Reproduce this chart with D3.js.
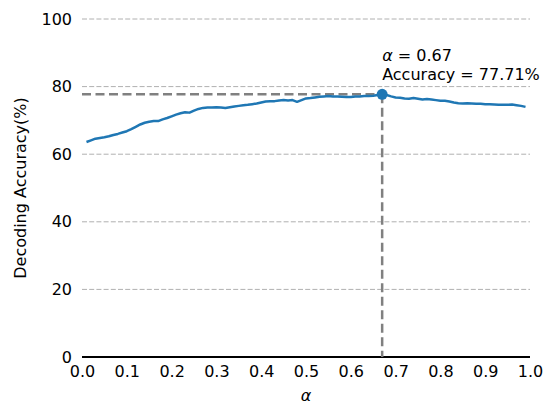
<!DOCTYPE html>
<html>
<head>
<meta charset="utf-8">
<script src="https://cdn.jsdelivr.net/npm/d3@7"></script>
<style>
  body { margin: 0; background: #fff; }
  text { font-family: "DejaVu Sans", sans-serif; fill: #000; }
</style>
</head>
<body>
<div id="chart"></div>
<script>
// data
var alphas = d3.range(1, 100).map(d => d / 100);
var accuracy = [
  63.6, 64.1, 64.6, 64.8, 65.0, 65.3, 65.7, 66.0, 66.4, 66.8,
  67.4, 68.1, 68.8, 69.3, 69.6, 69.8, 69.8, 70.3, 70.7, 71.2,
  71.7, 72.1, 72.4, 72.3, 72.9, 73.4, 73.7, 73.8, 73.8, 73.9,
  73.8, 73.7, 73.9, 74.1, 74.3, 74.5, 74.6, 74.8, 75.0, 75.3,
  75.6, 75.7, 75.7, 75.9, 76.0, 75.9, 76.0, 75.5, 76.0, 76.5,
  76.6, 76.8, 77.0, 77.1, 77.2, 77.1, 77.1, 77.0, 76.9, 76.9,
  77.1, 77.1, 77.2, 77.2, 77.3, 77.5, 77.71, 77.5, 77.1, 76.8,
  76.7, 76.5, 76.4, 76.6, 76.4, 76.2, 76.3, 76.2, 76.0, 75.8,
  75.8, 75.6, 75.3, 75.1, 75.0, 75.1, 75.0, 74.9, 74.9, 74.8,
  74.8, 74.7, 74.6, 74.6, 74.6, 74.7, 74.5, 74.3, 74.0
];
var bestAlpha = 0.67;
var bestAcc = 77.71;
var xTicks = [0, 0.1, 0.2, 0.3, 0.4, 0.5, 0.6, 0.7, 0.8, 0.9, 1.0];
var yTicks = [0, 20, 40, 60, 80, 100];

var data = alphas.map((a, i) => ({ a: a, v: accuracy[i] }));

var svgWidth = 558, svgHeight = 406;
var margin = { top: 19, right: 28, bottom: 49, left: 82 };
var width = svgWidth - margin.left - margin.right;
var height = svgHeight - margin.top - margin.bottom;

var svg = d3.select("#chart").append("svg")
  .attr("width", svgWidth)
  .attr("height", svgHeight);

var g = svg.append("g")
  .attr("transform", `translate(${margin.left},${margin.top})`);

var x = d3.scaleLinear().domain([0, 1]).range([0, width]);
var y = d3.scaleLinear().domain([0, 100]).range([height, 0]);

// grid lines
g.append("g")
  .selectAll("line")
  .data(yTicks.filter(d => d > 0))
  .enter().append("line")
  .attr("x1", 0).attr("x2", width)
  .attr("y1", d => y(d)).attr("y2", d => y(d))
  .attr("stroke", "#b0b0b0")
  .attr("stroke-width", 1)
  .attr("stroke-dasharray", "5,2.2");

// axes (labels only, no ticks)
var xAxis = g.append("g")
  .attr("transform", `translate(0,${height})`)
  .call(d3.axisBottom(x).tickValues(xTicks).tickSize(0).tickPadding(9).tickFormat(d3.format(".1f")));
xAxis.select(".domain").remove();
xAxis.selectAll("text").attr("font-size", 16).attr("font-family", "DejaVu Sans");

var yAxis = g.append("g")
  .call(d3.axisLeft(y).tickValues(yTicks).tickSize(0).tickPadding(10));
yAxis.select(".domain").remove();
yAxis.selectAll("text").attr("font-size", 16).attr("font-family", "DejaVu Sans");

// bottom spine
g.append("line")
  .attr("x1", 0).attr("x2", width)
  .attr("y1", y(0)).attr("y2", y(0))
  .attr("stroke", "#000")
  .attr("stroke-width", 2);

// best point guides
g.append("line")
  .attr("x1", 0).attr("x2", x(bestAlpha))
  .attr("y1", y(bestAcc)).attr("y2", y(bestAcc))
  .attr("stroke", "#808080")
  .attr("stroke-width", 2.5)
  .attr("stroke-dasharray", "9,4.5");

g.append("line")
  .attr("x1", x(bestAlpha)).attr("x2", x(bestAlpha))
  .attr("y1", y(bestAcc)).attr("y2", y(0))
  .attr("stroke", "#808080")
  .attr("stroke-width", 2.5)
  .attr("stroke-dasharray", "9,4.5");

// accuracy curve
var line = d3.line().x(d => x(d.a)).y(d => y(d.v));
g.append("path")
  .datum(data)
  .attr("fill", "none")
  .attr("stroke", "#1f77b4")
  .attr("stroke-width", 2.5)
  .attr("stroke-linejoin", "round")
  .attr("d", line);

g.append("circle")
  .attr("cx", x(bestAlpha))
  .attr("cy", y(bestAcc))
  .attr("r", 5.5)
  .attr("fill", "#1f77b4");

// annotation
var note = g.append("text")
  .attr("x", x(bestAlpha))
  .attr("y", y(bestAcc) - 33)
  .attr("font-size", 16);
note.append("tspan").attr("font-style", "italic").text("α");
note.append("tspan").text(" = " + bestAlpha.toFixed(2));
g.append("text")
  .attr("x", x(bestAlpha))
  .attr("y", y(bestAcc) - 14)
  .attr("font-size", 16)
  .text("Accuracy = " + bestAcc.toFixed(2) + "%");

// axis labels
g.append("text")
  .attr("x", width / 2)
  .attr("y", height + 44)
  .attr("text-anchor", "middle")
  .attr("font-size", 16)
  .attr("font-style", "italic")
  .text("α");

g.append("text")
  .attr("transform", `translate(${-margin.left + 26},${height / 2}) rotate(-90)`)
  .attr("text-anchor", "middle")
  .attr("font-size", 16)
  .text("Decoding Accuracy(%)");
</script>
</body>
</html>
